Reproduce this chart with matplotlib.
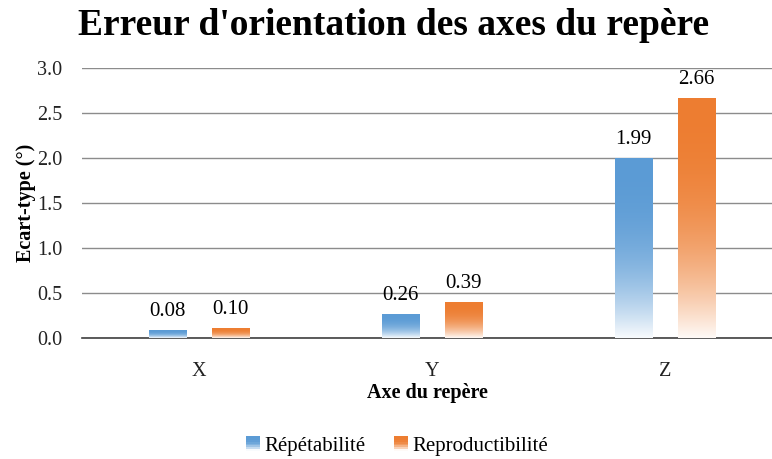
import matplotlib
matplotlib.use("Agg")
import matplotlib.pyplot as plt
import numpy as np
from matplotlib.colors import to_rgb
from matplotlib.legend_handler import HandlerBase
from matplotlib.patches import Patch, Rectangle

axes_labels = ["X", "Y", "Z"]
repetabilite = [0.08, 0.26, 1.99]
reproductibilite = [0.10, 0.39, 2.66]
series_names = ["Répétabilité", "Reproductibilité"]
series_colors = ["#5B9BD5", "#ED7D31"]

plt.rcParams["font.family"] = ["Liberation Serif", "DejaVu Serif"]


def gradient_rgb(color, n=256):
    # row 0 is the bottom (almost white), last row is the full colour
    t = np.linspace(0, 1, n)[:, None]
    f = 0.04 + 0.96 * (1 - (1 - t) ** 2.5)
    c = np.array(to_rgb(color))[None, :]
    return ((1 - f) * 1.0 + f * c)[:, None, :]


class GradientHandler(HandlerBase):
    def create_artists(self, legend, orig_handle, xdescent, ydescent, width, height, fontsize, trans):
        color = orig_handle.get_facecolor()
        size = height
        x0 = -xdescent + (width - size) / 2
        n = 8
        cols = gradient_rgb(color, n)
        strips = []
        for i in range(n):
            strips.append(Rectangle((x0, -ydescent + size * i / n), size, size / n + 0.2,
                                    facecolor=cols[i, 0], edgecolor="none", transform=trans))
        return strips


fig = plt.figure(figsize=(7.72, 4.59), dpi=100)
ax = fig.add_axes([0.1062, 0.2636, 0.8938, 0.5883])

x = np.arange(len(axes_labels))
width = 0.159
offset = 0.136
for values, color, shift in [(repetabilite, series_colors[0], -offset),
                             (reproductibilite, series_colors[1], offset)]:
    bars = ax.bar(x + shift, values, width, color="none", edgecolor="none", zorder=3)
    grad = gradient_rgb(color)
    for bar, v in zip(bars, values):
        x0 = bar.get_x()
        ax.imshow(grad, extent=(x0, x0 + width, 0, v), origin="lower",
                  aspect="auto", zorder=3, interpolation="bilinear")
        ax.annotate(f"{v:.2f}", (x0 + width / 2, v), xytext=(0, 7),
                    textcoords="offset points", ha="center", va="bottom", fontsize=15)

ax.set_xlim(-0.502, 2.46)
ax.set_ylim(0, 3.0)
ax.set_yticks(np.arange(0, 3.01, 0.5))
ax.yaxis.set_major_formatter(matplotlib.ticker.FormatStrFormatter("%.1f"))
ax.set_xticks(x)
ax.set_xticklabels(axes_labels)
ax.tick_params(axis="both", length=0, labelsize=14.5, colors="#222222")
ax.tick_params(axis="y", pad=14)
ax.tick_params(axis="x", pad=17)
ax.grid(axis="y", color="#8c8c8c", linewidth=1.0, zorder=0)
ax.set_axisbelow(True)
for side in ["top", "right", "left"]:
    ax.spines[side].set_visible(False)
ax.spines["bottom"].set_color("#404040")
ax.spines["bottom"].set_linewidth(1.2)

ax.set_ylabel("Ecart-type (°)", fontsize=14.5, fontweight="bold", labelpad=1)
ax.set_xlabel("Axe du repère", fontsize=14.5, fontweight="bold", labelpad=2)
fig.text(0.51, 0.945, "Erreur d'orientation des axes du repère", ha="center", va="center",
         fontsize=27, fontweight="bold")

handles = [Patch(facecolor=c, label=n) for c, n in zip(series_colors, series_names)]
fig.legend(handles=handles, loc="center", bbox_to_anchor=(0.514, 0.028), ncol=2, frameon=False,
           fontsize=15, handler_map={Patch: GradientHandler()}, handlelength=0.75,
           handletextpad=0.2, columnspacing=1.3)

fig.savefig("out.png", dpi=100)
